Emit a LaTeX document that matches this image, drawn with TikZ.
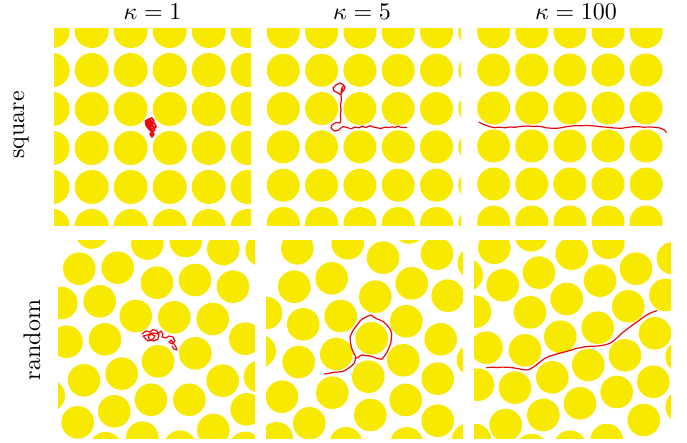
\documentclass[tikz,border=0pt]{standalone}
\begin{document}
\begin{tikzpicture}[x=1pt,y=-1pt]
\definecolor{disk}{RGB}{247,234,0}
\definecolor{traj}{RGB}{232,10,10}
\tikzset{
  lbl/.style={scale=2.4, inner sep=0pt},
  path/.style={draw=traj, line width=1.2pt, line join=round, line cap=round},
  blob/.style={draw=traj, line width=1.6pt, line join=round, line cap=round}
}
\useasboundingbox (0,0) rectangle (687,443);
% labels
\node[lbl, anchor=base] (k1) at (152.5,20) {$\kappa=1$};
\node[lbl, anchor=base] (k5) at (362,20) {$\kappa=5$};
\node[lbl, anchor=base] (k100) at (576,20) {$\kappa=100$};
\node[lbl, rotate=90] (sq) at (21,125) {square};
\node[lbl, rotate=90] (rd) at (32,340) {random};
% ---------- panel 1 ----------
\begin{scope}
\clip (54,29) rectangle (251,226);
\foreach \x in {52.7,91.7,130.7,169.7,208.7,247.7}
  \foreach \y in {31,70,109,148,187,226}
    \fill[disk] (\x,\y) circle (17pt);
\draw[blob] (147,123)--(149,119)--(152,118)--(154,121)--(151,124)--(148,126)--(146,122)--(150,120)--(155,124)--(156,127)--(152,129)--(149,127)--(153,126)--(155,130)--(152,132)--(150,134)--(152,137)--(154,134)--(151,131)--(148,128)--(146,125)--(145.5,121)--(148,119.5)--(151,121.5)--(153,123.5)--(150,125.5)--(147.5,124)--(149.5,122)--(152.5,125.5)--(154,128)--(151,129.5)--(150.5,127.5)--(152,131)--(151.5,135);
\end{scope}
% ---------- panel 2 ----------
\begin{scope}
\clip (267,29) rectangle (461,226);
\foreach \x in {283.3,321.6,359.9,398.2,436.5,474.8}
  \foreach \y in {32,70.3,108.6,146.9,185.2,223.5}
    \fill[disk] (\x,\y) circle (16.5pt);
\draw[path] (341,95)--(338,93)--(334,91)--(333,88)--(336,85)--(340,83)--(343,84.5)--(345,87)--(344,90)--(341,93)--(341.5,89)--(343,86.5)--(341,95)--(341.5,100)--(340.5,105)--(341,110)--(340.3,115)--(340.8,120)--(340,123)--(336,122.5)--(332,125)--(331,128)--(334,131)--(338,130.5)--(341,128)--(343,126.5)--(347,127.5)--(351,128.8)--(355,127)--(359,127.8)--(362,126.2)--(366,127.5)--(370,125.8)--(373,127)--(377,127.8)--(381,128.5)--(385,127.2)--(389,127.6)--(392,126.8)--(395,127.5)--(398,126.2)--(402,127.6)--(406.7,127.5);
\end{scope}
% ---------- panel 3 ----------
\begin{scope}
\clip (477,29) rectangle (667,226);
\foreach \x in {493.7,531.8,569.9,608,646.1,684.2}
  \foreach \y in {31.8,70,108,146,184,222}
    \fill[disk] (\x,\y) circle (16.5pt);
\draw[path] (479,122.3)--(484,124.5)--(489,126.5)--(495,127.7)--(500,127.2)--(505,127.8)--(510,127)--(515,127.3)--(520,126.5)--(524,126.2)--(528.3,126)--(533,126.5)--(537,126.2)--(541.7,126.7)--(546,127.8)--(551,128.2)--(556.7,128.3)--(561,127.8)--(566,126.8)--(571.7,126)--(576,125.6)--(581,125.8)--(586,125.5)--(591.7,125.7)--(596,126.2)--(601,126.8)--(608.3,127.3)--(614,128)--(621.7,128.3)--(626,127.6)--(632,126.8)--(638.3,126.7)--(644,127.2)--(650,127)--(655,127.3)--(660,128)--(664.3,130)--(666.3,132.3);
\end{scope}
% ---------- panel 4 ----------
\begin{scope}
\clip (58,241) rectangle (255,438);
\foreach \p in {(91.7,232.5),(147.3,243.5),(185.7,241),(223.3,249),(261.7,250),
  (79.3,268.7),(117.7,267.7),(157,282.7),(195,280),(233,286.7),
  (61.3,303),(99.7,301.3),(135.7,316),(174.3,317.3),(212.7,319),
  (66.5,341.7),(105,339.3),(245.3,338.7),(158,361.3),(195.3,353.3),
  (84,380.3),(121.7,373.7),(222.7,380.7),(48.7,395.7),(151,399.7),(189.3,399.7),(260,376.7),
  (114.3,411.3),(77.7,422.3),(246.7,409.3),(213.3,430),(142.3,437.7),(105.7,448.3),(180,446.7),(245,448)}
  \fill[disk] \p circle (16.3pt);
\draw[path] (142,334)--(146,331)--(150,332)--(153,329.5)--(157,331)--(159,335)--(158,339)--(154,341)--(150,340)--(148,337)--(151,334)--(155,336)--(153,339)--(148,341)--(145,338)--(143,336)--(147,335)--(152,333)--(158,334)--(161,331)--(163,334)--(162,337)--(166,338)--(169,336)--(173,337)--(175,341)--(172,344)--(169,342)--(171,340)--(174,344)--(176,347)--(177,350)--(174,349)--(172,346);
\end{scope}
% ---------- panel 5 ----------
\begin{scope}
\clip (266,241) rectangle (463,438);
\foreach \p in {(297.3,248.3),(347.7,243.3),(383,257.7),(409,227.5),(437,253.7),(473.8,263.3),
  (294.3,286.7),(331.7,278.3),(411.7,283.3),(375.3,296.7),(447.7,295.7),(266,313),
  (303.3,324.3),(340.7,316),(406.3,321.3),(371.7,338.3),(440.7,339.3),(259.7,351),
  (298.7,362),(336.3,354),(403.3,360.3),(368.3,376.7),(437.7,378.7),(473,360),
  (282,396.7),(332.3,392.7),(405.7,400),(370.3,415),(309.3,423.3),(437.7,420.7),
  (276.7,438.3),(346,443.3),(406.7,443.3),(468,440)}
  \fill[disk] \p circle (16.3pt);
\draw[path] (324.3,374)--(328,373.5)--(331.7,372.7)--(336,372.2)--(341.7,371.7)--(345,370.5)--(348.3,368.3)--(351.5,366)--(354.3,363.3)--(355.2,360)--(355.7,356.7)--(353.5,352.5)--(351.7,348.3)--(350.5,343)--(350,337.3)--(351.5,333.5)--(353.3,330)--(356,326.5)--(358.3,323.3)--(360.5,320.5)--(363.3,318.3)--(367,316.5)--(371,315)--(373.5,316.8)--(375.7,318.3)--(379.5,319.8)--(383.3,321.7)--(386,324)--(388.3,326.7)--(390.5,330)--(391.7,333.3)--(391.5,338)--(390.7,343.3)--(389,348)--(386.7,352.7)--(384.5,356)--(381.7,359.3)--(379,358.8)--(376.7,358.3)--(373.5,357)--(370,356)--(366,355.5)--(361.7,355)--(359,356.5)--(356.7,358.3);
\end{scope}
% ---------- panel 6 ----------
\begin{scope}
\clip (474,241) rectangle (671,438);
\foreach \p in {(494.3,247.7),(531,235.3),(571.7,253.7),(608.3,242.7),(636,268.7),(673,258.3),
  (466.7,275),(502.7,285.3),(539,272.7),(600,280.7),(566.7,299),(628.3,306.3),(665.5,295),
  (475,311.7),(530,312.3),(597.7,327.7),(560.3,336.7),(655,333.3),
  (486.5,347.7),(525,350.3),(588.3,365),(625,355.3),(681.7,356.7),
  (477.8,384.7),(515,387.7),(552.3,377.3),(616.7,392),(653.3,381.7),
  (580,403.3),(543.3,415),(505.7,425),(643.7,420),(681.7,406.7),
  (606.7,440),(475,440),(570,446.7),(531.7,450)}
  \fill[disk] \p circle (16.3pt);
\draw[path] (486.7,367.7)--(492,367.2)--(497,367.6)--(502,367.1)--(508.3,367.3)--(513,367.8)--(518,368.6)--(522,369.5)--(526.7,370)--(530,369.2)--(535,366)--(540,362)--(545,358.3)--(550,356)--(556.7,354)--(562,352.6)--(567,351.3)--(571.7,350)--(576,348.6)--(580,347.8)--(585,346.7)--(590,346.4)--(594,346.2)--(598.3,346)--(602,345.5)--(606,344.6)--(610,343.3)--(614,340.5)--(618,337)--(621.7,333.3)--(626,330)--(630.5,326.5)--(635,323.3)--(639,320.5)--(643,317.5)--(646.7,315)--(650,313.2)--(653.5,311.8)--(656.7,310.7);
\end{scope}
\end{tikzpicture}
\end{document}
